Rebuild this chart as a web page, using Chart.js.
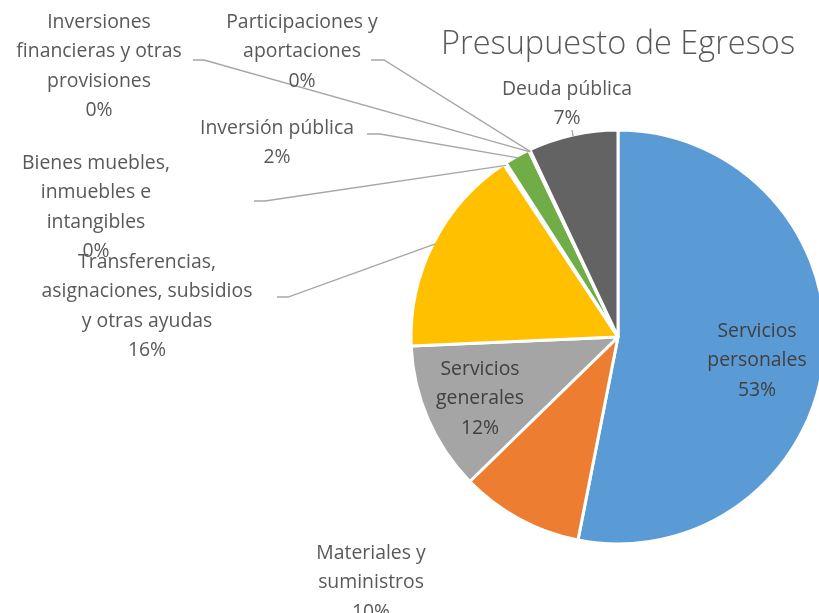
<!DOCTYPE html>
<html><head><meta charset="utf-8">
<script src="https://cdn.jsdelivr.net/npm/chart.js@4/dist/chart.umd.min.js"></script>
<style>html,body{margin:0;padding:0;background:#fff}#wrap{width:819px;height:613px;position:relative;overflow:hidden}</style>
</head><body><div id="wrap"><canvas id="c" width="819" height="613"></canvas></div>
<script>
const title = "Presupuesto de Egresos";
const categories = ["Servicios personales","Materiales y suministros","Servicios generales","Transferencias, asignaciones, subsidios y otras ayudas","Bienes muebles, inmuebles e intangibles","Inversión pública","Inversiones financieras y otras provisiones","Participaciones y aportaciones","Deuda pública"];
const values = [53.1, 9.6, 11.6, 16.4, 0.2, 2.0, 0.05, 0.05, 7.0];
const colors = ["#5B9BD5","#ED7D31","#A5A5A5","#FFC000","#4472C4","#70AD47","#264478","#9E480E","#636363"];
const labelLines = [["Servicios","personales"],["Materiales y","suministros"],["Servicios","generales"],["Transferencias,","asignaciones, subsidios","y otras ayudas"],["Bienes muebles,","inmuebles e","intangibles"],["Inversión pública"],["Inversiones","financieras y otras","provisiones"],["Participaciones y","aportaciones"],["Deuda pública"]];

// label layout (positions only)
const labelPos = [
  {x:757, y:331, color:"#404040"},
  {x:371, y:553, color:"#595959", leader:null},
  {x:480, y:369, color:"#404040"},
  {x:147, y:262, color:"#595959", leader:[[277,297],[288,297]]},
  {x:96,  y:163, color:"#595959", leader:[[254,201],[265,201]]},
  {x:277, y:128, color:"#595959", leader:[[367,134],[380,134]]},
  {x:99,  y:22,  color:"#595959", leader:[[193,60],[204,60]]},
  {x:302, y:22,  color:"#595959", leader:[[371,60],[384,60]]},
  {x:567, y:89,  color:"#595959", leader:[[572,130],[572,130]]}
];
const LH = 29.5;
const FONT = '19.4px "Open Sans", sans-serif';

const labelPlugin = {
  id:'labels',
  afterDraw(chart){
    const ctx = chart.ctx;
    const meta = chart.getDatasetMeta(0);
    const total = values.reduce((a,b)=>a+b,0);
    ctx.save();
    ctx.strokeStyle = '#A6A6A6';
    ctx.lineWidth = 1.3;
    meta.data.forEach((arc,i)=>{
      const lp = labelPos[i];
      if(!lp.leader) return;
      const mid = (arc.startAngle+arc.endAngle)/2;
      const r = arc.outerRadius - 2;
      const ex = arc.x + Math.cos(mid)*r, ey = arc.y + Math.sin(mid)*r;
      ctx.beginPath();
      ctx.moveTo(lp.leader[0][0], lp.leader[0][1]);
      ctx.lineTo(lp.leader[1][0], lp.leader[1][1]);
      ctx.lineTo(ex, ey);
      ctx.stroke();
    });
    ctx.font = FONT;
    ctx.textAlign = 'center';
    ctx.textBaseline = 'middle';
    labelLines.forEach((lines,i)=>{
      const lp = labelPos[i];
      const all = lines.concat([Math.round(values[i]/total*100)+'%']);
      ctx.fillStyle = lp.color;
      all.forEach((t,k)=> ctx.fillText(t, lp.x, lp.y + k*LH));
    });
    ctx.font = '300 32.5px "Open Sans", sans-serif';
    ctx.fillStyle = '#595959';
    ctx.fillText(title, 618, 45);
    ctx.restore();
  }
};

new Chart(document.getElementById('c'), {
  type:'pie',
  data:{labels:categories, datasets:[{data:values, backgroundColor:colors, borderColor:'#ffffff', borderWidth:3, radius:207}]},
  options:{
    responsive:false, animation:false,
    layout:{padding:{left:417, top:61, right:0, bottom:0}},
    events:[],
    plugins:{legend:{display:false}, tooltip:{enabled:false}, title:{display:false}}
  },
  plugins:[labelPlugin]
});
</script></body></html>
